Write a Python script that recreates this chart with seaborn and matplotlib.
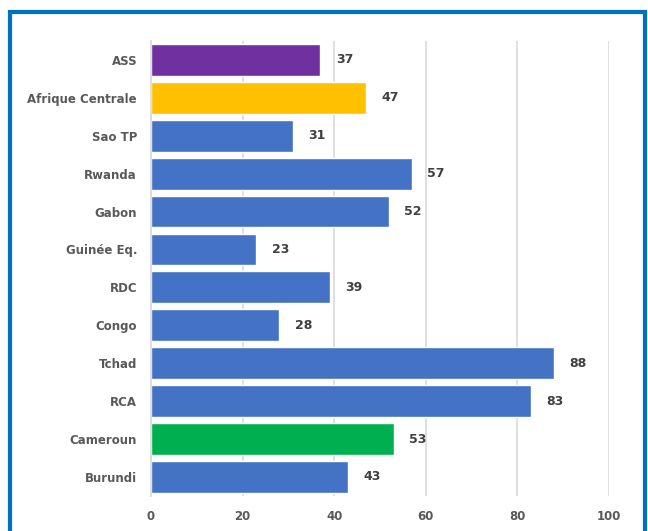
import pandas as pd
import matplotlib.pyplot as plt
import seaborn as sns
from matplotlib.patches import Rectangle

# Données
pays = ["ASS", "Afrique Centrale", "Sao TP", "Rwanda", "Gabon", "Guinée Eq.",
        "RDC", "Congo", "Tchad", "RCA", "Cameroun", "Burundi"]
valeurs = [37, 47, 31, 57, 52, 23, 39, 28, 88, 83, 53, 43]
couleurs = ["#7030A0", "#FFC000", "#4472C4", "#4472C4", "#4472C4", "#4472C4",
            "#4472C4", "#4472C4", "#4472C4", "#4472C4", "#00B050", "#4472C4"]

df = pd.DataFrame({"Pays": pays, "Valeur": valeurs})

sns.set_style("white")
plt.rcParams['font.family'] = ['DejaVu Sans']

fig = plt.figure(figsize=(6.48, 5.31), dpi=100)
ax = fig.add_axes([0.233, 0.066, 0.707, 0.857])
ax.set_axisbelow(True)

sns.barplot(data=df, x="Valeur", y="Pays", hue="Pays", palette=couleurs,
            legend=False, width=0.84, saturation=1, ax=ax)

for c in ax.containers:
    ax.bar_label(c, padding=11, fontsize=9, fontweight='bold', color='#404040')

ax.set_xlim(0, 100)
ax.set_xticks([0, 20, 40, 60, 80, 100])
ax.set_xlabel("")
ax.set_ylabel("")
ax.grid(axis='x', color='#D9D9D9', linewidth=1.2)
ax.tick_params(axis='both', length=0, labelsize=8.5, labelcolor='#595959')
for lab in ax.get_xticklabels() + ax.get_yticklabels():
    lab.set_fontweight('bold')
ax.tick_params(axis='y', pad=10)
ax.tick_params(axis='x', pad=10)
for s in ["top", "right", "bottom"]:
    ax.spines[s].set_visible(False)
ax.spines["left"].set_color('#D9D9D9')
ax.spines["left"].set_linewidth(1.2)

# Cadre bleu
fig.patches.append(Rectangle((10 / 648, -0.05), 635 / 648, 1.05 - 12 / 531,
                             transform=fig.transFigure, fill=False,
                             edgecolor='#0070C0', linewidth=3))

fig.savefig("out.png", dpi=100)
